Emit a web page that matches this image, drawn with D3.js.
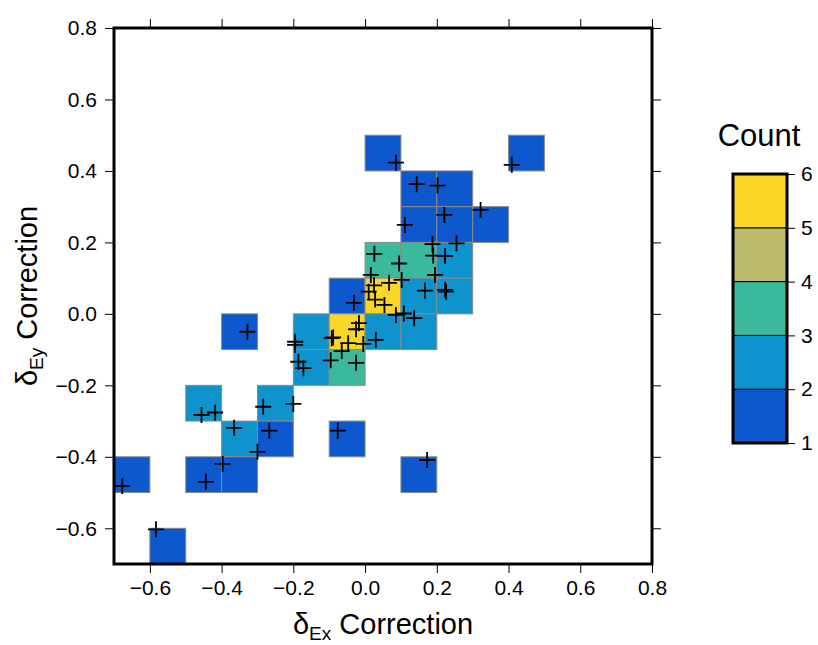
<!DOCTYPE html>
<html>
<head>
<meta charset="utf-8">
<script src="https://cdn.jsdelivr.net/npm/d3@7"></script>
<style>
	body { margin: 0; background: #fff; }
	svg text { font-family: "Liberation Sans", Arial, Helvetica, sans-serif; fill: #000; }
</style>
</head>
<body>
<div id="chart"></div>
<script>
// binned cells: lower-left corner of each 0.1 x 0.1 bin and its count
var cellX = [0.0, 0.4, 0.1, 0.2, 0.1, 0.2, 0.3, 0.0, 0.1, 0.2, -0.1, 0.0, 0.1, 0.2,
	-0.4, -0.2, -0.1, 0.0, 0.1, -0.2, -0.1, -0.5, -0.3, -0.4, -0.3, -0.1,
	-0.7, -0.5, -0.4, 0.1, -0.6];
var cellY = [0.4, 0.4, 0.3, 0.3, 0.2, 0.2, 0.2, 0.1, 0.1, 0.1, 0.0, 0.0, 0.0, 0.0,
	-0.1, -0.1, -0.1, -0.1, -0.1, -0.2, -0.2, -0.3, -0.3, -0.4, -0.4, -0.4,
	-0.5, -0.5, -0.5, -0.5, -0.7];
var cellCount = [1, 1, 1, 1, 1, 1, 1, 3, 3, 2, 1, 5, 2, 2,
	1, 2, 5, 2, 2, 2, 3, 2, 2, 2, 1, 1,
	1, 1, 1, 1, 1];

// individual corrections (crosses)
var pointX = [0.086, 0.409, 0.144, 0.202, 0.322, 0.221, 0.111,
	0.188, 0.255, 0.026, 0.190, 0.223, 0.095, 0.016, 0.195, 0.102, 0.067, 0.025, 0.010, 0.028, 0.054,
	-0.031, 0.167, 0.223, 0.226, 0.086, 0.108, 0.137,
	-0.017, -0.025, -0.089, -0.093, -0.195, -0.195, -0.047, -0.005, 0.030, -0.065, -0.096, -0.025,
	-0.186, -0.172, -0.328,
	-0.456, -0.418, -0.284, -0.200, -0.365, -0.267, -0.076, -0.300, -0.397, -0.444, -0.677, 0.173, -0.583];
var pointY = [0.423, 0.417, 0.363, 0.359, 0.291, 0.277, 0.249,
	0.195, 0.197, 0.168, 0.163, 0.162, 0.141, 0.109, 0.109, 0.095, 0.087, 0.080, 0.062, 0.040, 0.025,
	0.031, 0.065, 0.067, 0.062, -0.003, 0.001, -0.012,
	-0.026, -0.043, -0.066, -0.068, -0.078, -0.087, -0.082, -0.084, -0.073, -0.104, -0.130, -0.137,
	-0.134, -0.152, -0.050,
	-0.283, -0.276, -0.260, -0.252, -0.319, -0.327, -0.327, -0.386, -0.420, -0.470, -0.482, -0.409, -0.603];

var xTicks = [-0.6, -0.4, -0.2, 0.0, 0.2, 0.4, 0.6, 0.8];
var yTicks = [-0.6, -0.4, -0.2, 0.0, 0.2, 0.4, 0.6, 0.8];
var countBreaks = [1, 2, 3, 4, 5, 6];
var countColors = ["#0c58cc", "#0e93cc", "#3bb99d", "#bdb96a", "#fad726"];

var margin = { top: 28, left: 114 },
	width = 538,
	height = 536;

var svg = d3.select("#chart").append("svg")
	.attr("width", 818)
	.attr("height", 645);

var g = svg.append("g")
	.attr("transform", "translate(" + margin.left + "," + margin.top + ")");

var x = d3.scaleLinear().domain([-0.7, 0.8]).range([0, width]);
var y = d3.scaleLinear().domain([-0.7, 0.8]).range([height, 0]);

var color = d3.scaleThreshold()
	.domain([2, 3, 4, 5])
	.range(countColors);

var fmt = d3.format(".1f");

// cells
g.selectAll(".cell")
	.data(d3.range(cellX.length))
	.enter()
	.append("rect")
	.attr("class", "cell")
	.attr("x", function(i) { return x(cellX[i]); })
	.attr("y", function(i) { return y(cellY[i] + 0.1); })
	.attr("width", function(i) { return x(cellX[i] + 0.1) - x(cellX[i]); })
	.attr("height", function(i) { return y(cellY[i]) - y(cellY[i] + 0.1); })
	.style("fill", function(i) { return color(cellCount[i]); })
	.style("stroke", "#8a8a8a")
	.style("stroke-width", 1);

// crosses
g.selectAll(".pt")
	.data(d3.range(pointX.length))
	.enter()
	.append("path")
	.attr("class", "pt")
	.attr("d", function(i)
	{
		var px = x(pointX[i]), py = y(pointY[i]), r = 8;
		return "M" + (px - r) + "," + py + "H" + (px + r) + "M" + px + "," + (py - r) + "V" + (py + r);
	})
	.style("stroke", "#000")
	.style("stroke-width", 1.8)
	.style("fill", "none");

// axes with outside ticks on all four sides
function styleAxis(sel)
{
	sel.select(".domain").remove();
	sel.selectAll(".tick line").style("stroke", "#000").style("stroke-width", 1);
	sel.selectAll(".tick text").style("font-size", "21px");
}

g.append("g")
	.attr("transform", "translate(0," + height + ")")
	.call(d3.axisBottom(x).tickValues(xTicks).tickSize(9).tickPadding(7).tickFormat(fmt))
	.call(styleAxis);

g.append("g")
	.call(d3.axisTop(x).tickValues(xTicks).tickSize(9).tickFormat(""))
	.call(styleAxis);

g.append("g")
	.call(d3.axisLeft(y).tickValues(yTicks).tickSize(9).tickPadding(8).tickFormat(fmt))
	.call(styleAxis);

g.append("g")
	.attr("transform", "translate(" + width + ",0)")
	.call(d3.axisRight(y).tickValues(yTicks).tickSize(9).tickFormat(""))
	.call(styleAxis);

// frame
g.append("rect")
	.attr("width", width)
	.attr("height", height)
	.style("fill", "none")
	.style("stroke", "#000")
	.style("stroke-width", 3);

// axis titles
var xt = svg.append("text")
	.attr("x", margin.left + width / 2)
	.attr("y", 634)
	.attr("text-anchor", "middle")
	.style("font-size", "29px");
xt.append("tspan").text("δ");
xt.append("tspan").attr("dy", 6).style("font-size", "19px").text("Ex");
xt.append("tspan").attr("dy", -6).text(" Correction");

var yt = svg.append("text")
	.attr("transform", "translate(37," + (margin.top + height / 2) + ") rotate(-90)")
	.attr("text-anchor", "middle")
	.style("font-size", "29px");
yt.append("tspan").text("δ");
yt.append("tspan").attr("dy", 6).style("font-size", "19px").text("Ey");
yt.append("tspan").attr("dy", -6).text(" Correction");

// colour bar
var cb = svg.append("g").attr("transform", "translate(733,174)");
var cbW = 54, cbH = 269;
var cy = d3.scaleLinear().domain([1, 6]).range([cbH, 0]);

cb.selectAll(".band")
	.data(countColors)
	.enter()
	.append("rect")
	.attr("class", "band")
	.attr("x", 0)
	.attr("width", cbW)
	.attr("y", function(d, i) { return cy(countBreaks[i + 1]); })
	.attr("height", function(d, i) { return cy(countBreaks[i]) - cy(countBreaks[i + 1]); })
	.style("fill", function(d) { return d; })
	.style("stroke", "#000")
	.style("stroke-width", 1);

cb.append("rect")
	.attr("width", cbW)
	.attr("height", cbH)
	.style("fill", "none")
	.style("stroke", "#000")
	.style("stroke-width", 3);

cb.append("g")
	.attr("transform", "translate(" + cbW + ",0)")
	.call(d3.axisRight(cy).tickValues(countBreaks).tickSize(8).tickPadding(6).tickFormat(d3.format("d")))
	.call(styleAxis);

svg.append("text")
	.attr("x", 759)
	.attr("y", 146)
	.attr("text-anchor", "middle")
	.style("font-size", "31px")
	.text("Count");
</script>
</body>
</html>
